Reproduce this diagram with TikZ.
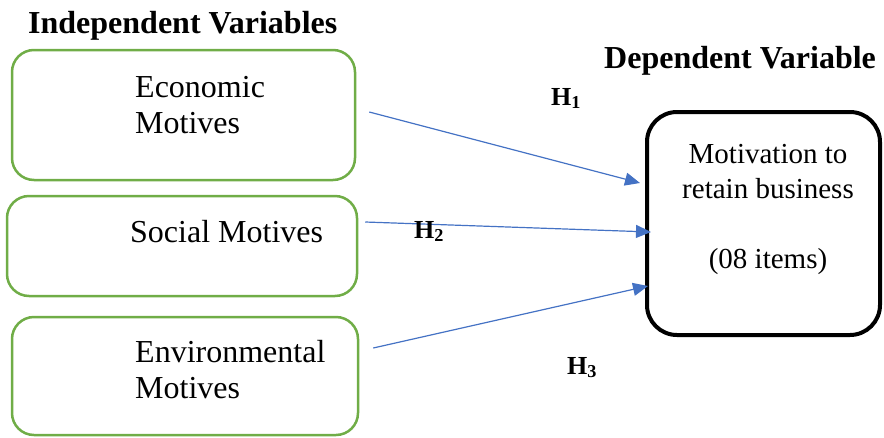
\documentclass[tikz,border=0pt]{standalone}
\usepackage{fontspec}
\setmainfont{Liberation Serif}
\usetikzlibrary{positioning,calc,arrows.meta}
\definecolor{boxgreen}{HTML}{70AD47}
\definecolor{arrowblue}{HTML}{4472C4}

\begin{document}
\begin{tikzpicture}[x=1pt, y=-1pt,
        motivebox/.style={rectangle, draw=boxgreen, line width=2.5pt, rounded corners=22pt},
        motivetext/.style={anchor=base west, align=left, inner sep=0pt, font=\fontsize{32}{36}\selectfont},
        heading/.style={anchor=base west, inner sep=0pt, font=\fontsize{32}{36}\selectfont\bfseries},
        hyp/.style={anchor=base west, inner sep=0pt, font=\fontsize{26}{30}\selectfont\bfseries},
        arrow/.style={-{Triangle[length=15pt,width=13pt]}, color=arrowblue, line width=1.2pt}]
        \useasboundingbox (0,0) rectangle (884,437);

        % Judul kolom
        \node (indep) [heading] at (28,33) {Independent Variables};
        \node (depend) [heading] at (604,68) {Dependent Variable};

        % Kotak variabel bebas
        \node (eco) [motivebox, minimum width=343pt, minimum height=130pt] at (183.5,115) {};
        \node (soc) [motivebox, minimum width=350pt, minimum height=100pt, below=13.5pt of eco, xshift=-1.5pt] {};
        \node (env) [motivebox, minimum width=346pt, minimum height=118pt, below=18.5pt of soc, xshift=3pt] {};

        \node (ecotxt) [motivetext] at (135,133) {Economic\\Motives};
        \node (soctxt) [motivetext] at (130,242) {Social Motives};
        \node (envtxt) [motivetext] at (135,398) {Environmental\\Motives};

        % Kotak variabel terikat
        \node (dep) [rectangle, draw, line width=4pt, rounded corners=30pt, minimum width=233pt, minimum height=223pt] at (763.5,223.5) {};
        \node (deptxt) [anchor=base, align=center, inner sep=0pt, font=\fontsize{29}{35}\selectfont] at (768,268) {Motivation to\\retain business\\[35pt](08 items)};

        % Panah hipotesis
        \draw [arrow] ($(eco.east)+(13,-3)$) -- ($(dep.west)+(-5,-40.5)$);
        \draw [arrow] ($(soc.east)+(7,-24)$) -- ($(dep.west)+(6,8.5)$);
        \draw [arrow] ($(env.east)+(14,-28)$) -- ($(dep.west)+(3,62.5)$);

        \node (h1) [hyp] at (551,105) {H\textsubscript{1}};
        \node (h2) [hyp] at (414,238) {H\textsubscript{2}};
        \node (h3) [hyp] at (567,374) {H\textsubscript{3}};
    \end{tikzpicture}
\end{document}
